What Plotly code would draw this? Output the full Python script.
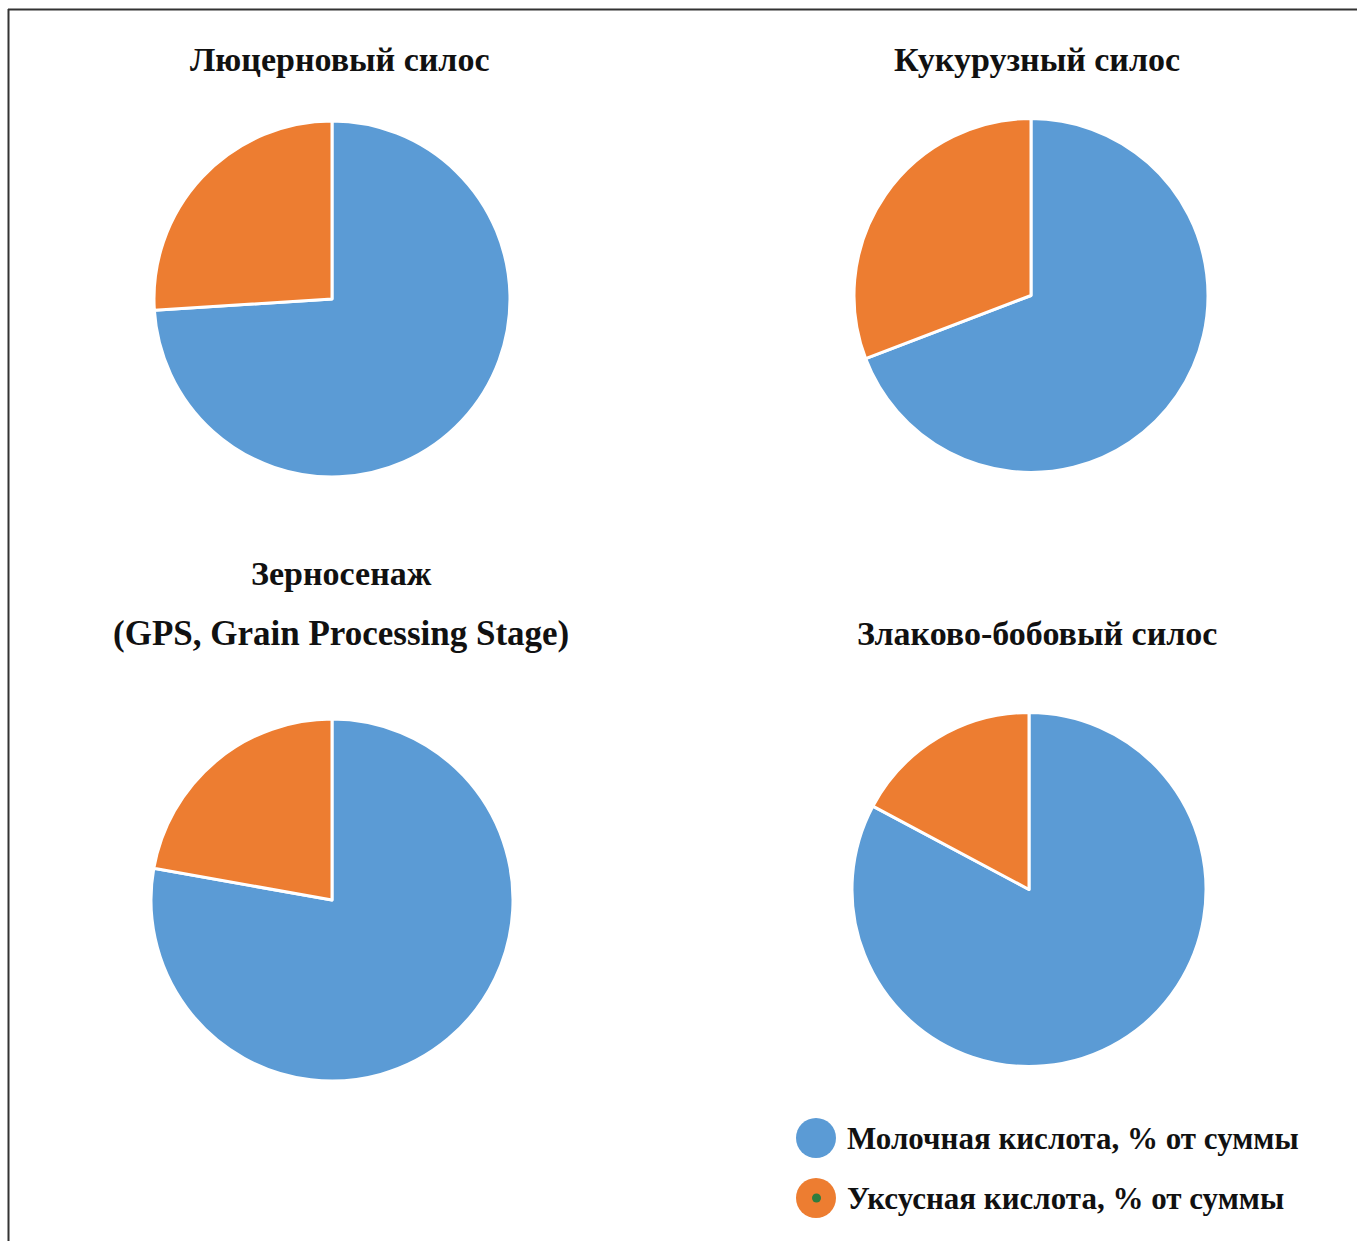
import plotly.graph_objects as go

W, H = 1357, 1241

series_names = ["Молочная кислота, % от суммы", "Уксусная кислота, % от суммы"]
silage_types = ["Люцерновый силос", "Кукурузный силос",
                "Зерносенаж<br>(GPS, Grain Processing Stage)", "Злаково-бобовый силос"]
lactic = [74.0, 69.2, 77.8, 82.8]
acetic = [26.0, 30.8, 22.2, 17.2]
colors = ["#5B9BD5", "#ED7D31"]

# pie centres and radii in pixels
centers = [(332, 299), (1031, 295.5), (332, 900), (1029, 889.5)]
radii = [178, 177, 181, 177]
title_pos = [(340, 60), (1037, 60), (341, 573), (1037, 633)]

def px_x(x):
    return x / W

def px_y(y):
    return 1 - y / H

fig = go.Figure()
for i in range(4):
    cx, cy = centers[i]
    r = radii[i]
    fig.add_trace(go.Pie(
        labels=series_names,
        values=[lactic[i], acetic[i]],
        sort=False,
        direction="clockwise",
        rotation=0,
        textinfo="none",
        hoverinfo="label+value",
        marker=dict(colors=colors, line=dict(color="white", width=3)),
        domain=dict(x=[px_x(cx - r), px_x(cx + r)], y=[px_y(cy + r), px_y(cy - r)]),
        showlegend=False,
    ))

font_family = "Liberation Serif"
for i, t in enumerate(silage_types):
    tx, ty = title_pos[i]
    lines = t.split("<br>")
    for k, line in enumerate(lines):
        fig.add_annotation(
            x=px_x(tx), y=px_y(ty + 60 * k), xref="paper", yref="paper",
            text="<b>" + line + "</b>",
            showarrow=False, xanchor="center", yanchor="middle",
            font=dict(family=font_family, size=35 if k == 1 else 34, color="#111111"),
            align="center",
        )

# legend (custom, large circular markers)
leg_y = [1138, 1198]
for j, name in enumerate(series_names):
    y = leg_y[j]
    fig.add_shape(type="circle", xref="paper", yref="paper",
                  x0=px_x(796), x1=px_x(836), y0=px_y(y + 20), y1=px_y(y - 20),
                  fillcolor=colors[j], line=dict(width=0))
    fig.add_annotation(
        x=px_x(845), y=px_y(y), xref="paper", yref="paper",
        text="<b>" + name + "</b>", showarrow=False,
        xanchor="left", yanchor="middle",
        font=dict(family=font_family, size=31, color="#111111"),
    )
# small green dot inside the orange marker
fig.add_shape(type="circle", xref="paper", yref="paper",
              x0=px_x(812), x1=px_x(821), y0=px_y(1202.5), y1=px_y(1193.5),
              fillcolor="#2E7D3E", line=dict(width=0))

# frame lines (left and top)
fig.add_shape(type="line", xref="paper", yref="paper",
              x0=px_x(8.5), x1=px_x(8.5), y0=0, y1=px_y(9),
              line=dict(color="#333333", width=2))
fig.add_shape(type="line", xref="paper", yref="paper",
              x0=px_x(8), x1=1, y0=px_y(9.5), y1=px_y(9.5),
              line=dict(color="#333333", width=2))

fig.update_layout(
    width=W, height=H,
    margin=dict(l=0, r=0, t=0, b=0),
    paper_bgcolor="white", plot_bgcolor="white",
)

fig.write_html("out.html")
